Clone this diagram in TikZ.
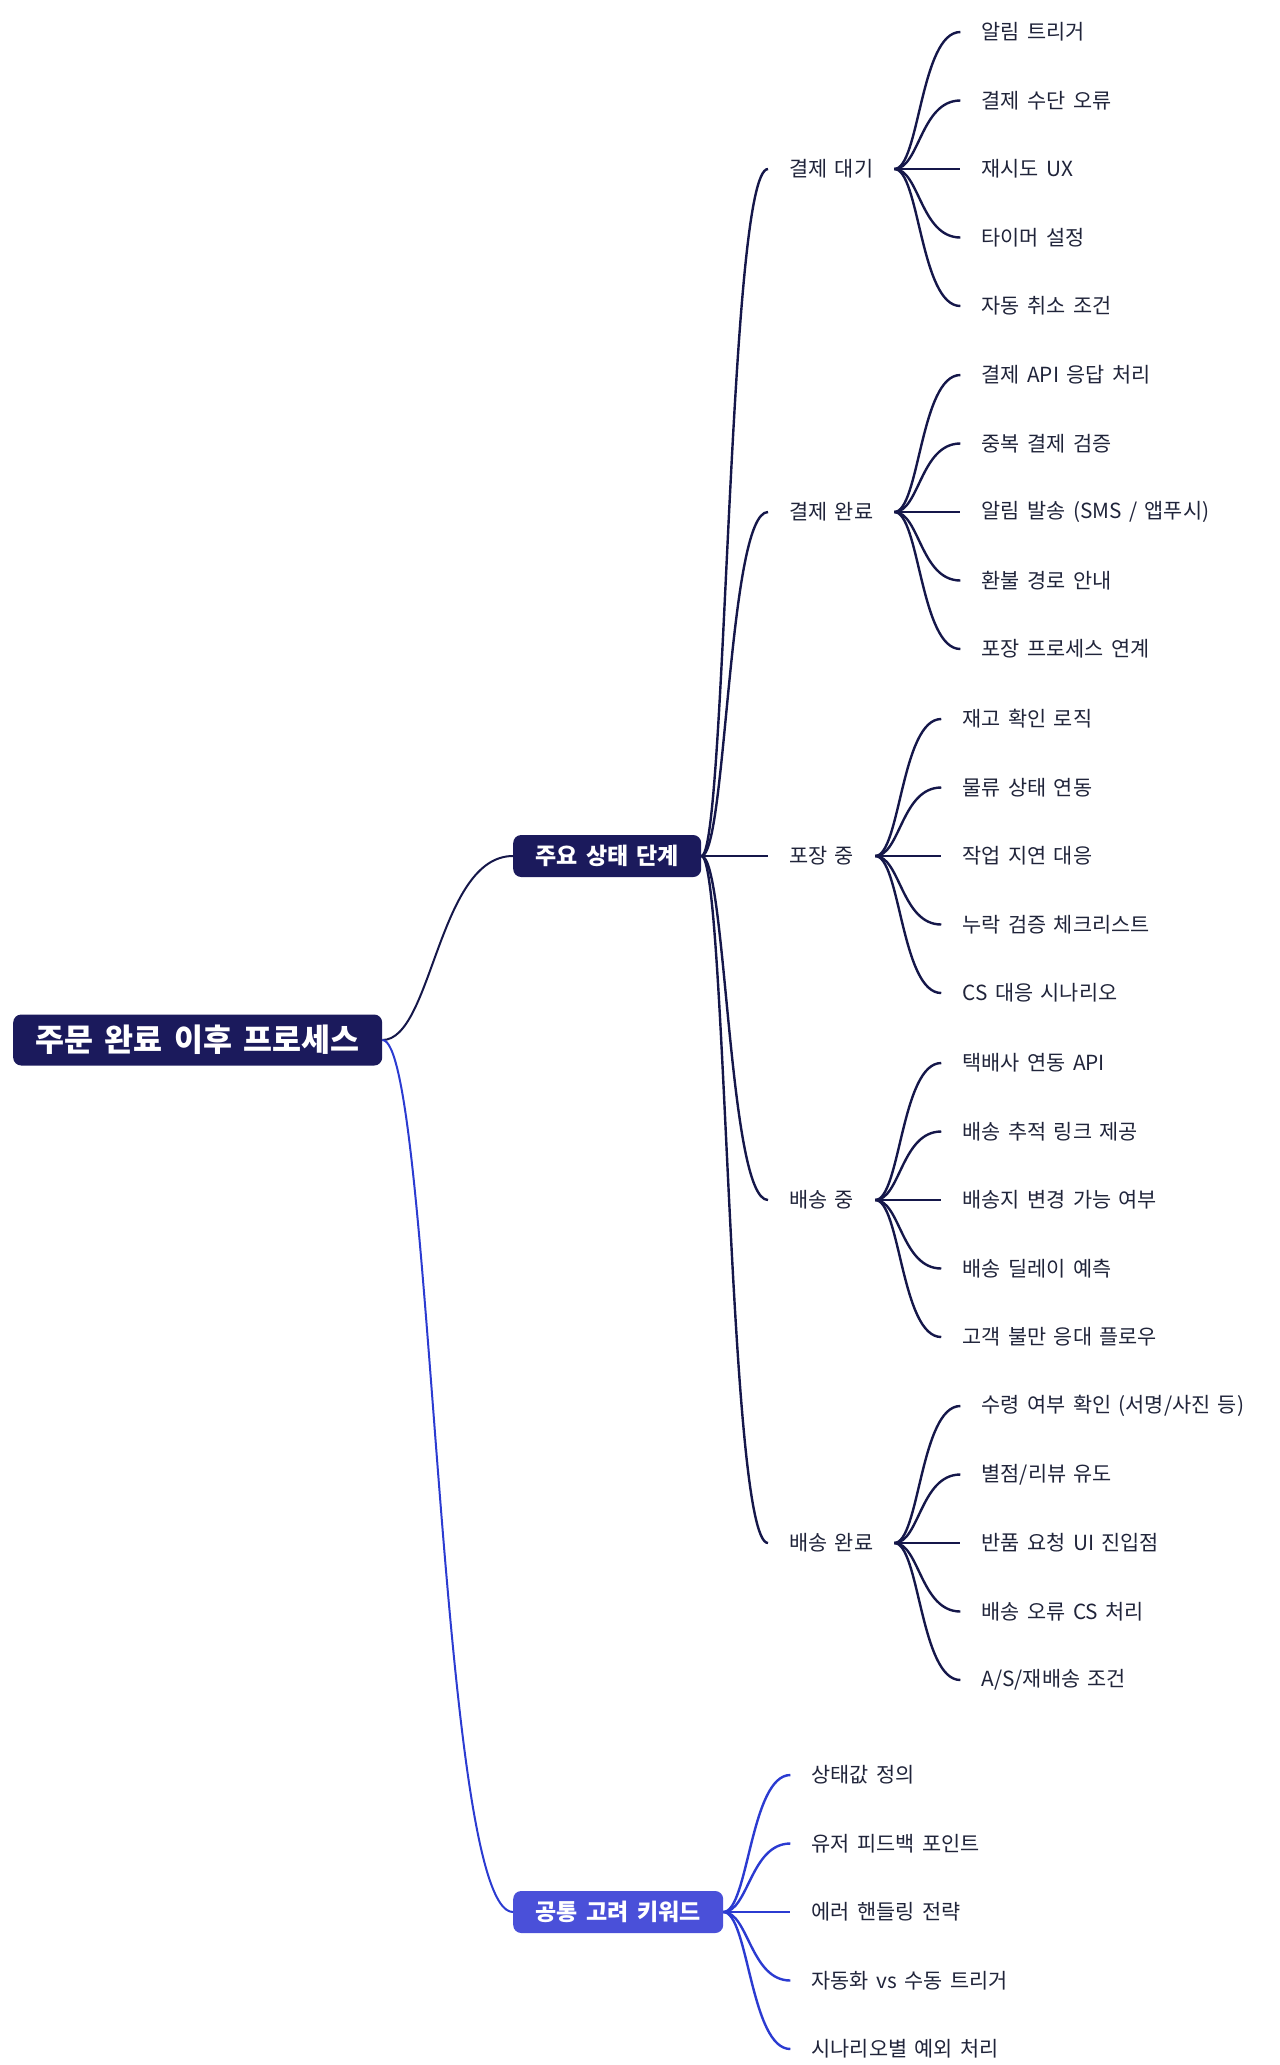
\documentclass[tikz,border=0pt]{standalone}
\usepackage{fontspec}
\setmainfont{Noto Sans CJK KR}[WordSpace=1.6]
\usetikzlibrary{positioning}
\definecolor{navy}{HTML}{1B1A5C}
\definecolor{navyline}{HTML}{15174A}
\definecolor{indigo}{HTML}{4A50D9}
\definecolor{indigoline}{HTML}{2B3BD1}
\definecolor{ink}{HTML}{20243A}

\begin{document}
\begin{tikzpicture}[x=1pt, y=-1pt,
  topic/.style={fill=navy, text=white, rounded corners=8pt, anchor=west, inner xsep=0pt,
    font=\bfseries\fontsize{23}{26}\selectfont, minimum height=42pt},
  item/.style={text=ink, anchor=west, inner xsep=21pt, inner ysep=0pt,
    font=\fontsize{20.8}{24}\selectfont},
  wire/.style={draw=navyline, line width=2.4pt}]
\useasboundingbox (0,0) rectangle (1280,2065);

\node[topic, minimum width=369pt, minimum height=51pt, font=\bfseries\fontsize{31.5}{35}\selectfont] (root) at (13,1040) {주문 완료 이후 프로세스};
\node[topic, minimum width=188pt] (stage) at (513,856) {주요 상태 단계};
\node[topic, minimum width=210pt, fill=indigo] (kw) at (513,1912) {공통 고려 키워드};
\draw[wire, line width=2pt] (root.east) .. controls +(50,0) and +(-75,0) .. (stage.west);
\draw[wire, line width=2pt, draw=indigoline] (root.east) .. controls +(50,0) and +(-75,0) .. (kw.west);

\foreach \name/\y/\t in {wait/169/결제 대기, paid/512/결제 완료, pack/856/포장 중, ship/1200/배송 중, done/1543/배송 완료} {
  \node[item] (\name) at (768,\y) {\t};
  \draw[wire] (stage.east) .. controls +(25,0) and +(-40,0) .. (\name.west);
}

\foreach \t [count=\i] in {알림 트리거, 결제 수단 오류, 재시도 UX, 타이머 설정, 자동 취소 조건} {
  \node[item, right=66pt of wait, yshift={(3-\i)*68.5pt}] (wait\i) {\t};
  \draw[wire] (wait.east) .. controls +(25,0) and +(-40,0) .. (wait\i.west);
}
\foreach \t [count=\i] in {결제 API 응답 처리, 중복 결제 검증, {알림 발송 (SMS / 앱푸시)}, 환불 경로 안내, 포장 프로세스 연계} {
  \node[item, right=66pt of paid, yshift={(3-\i)*68.5pt}] (paid\i) {\t};
  \draw[wire] (paid.east) .. controls +(25,0) and +(-40,0) .. (paid\i.west);
}
\foreach \t [count=\i] in {재고 확인 로직, 물류 상태 연동, 작업 지연 대응, 누락 검증 체크리스트, CS 대응 시나리오} {
  \node[item, right=66pt of pack, yshift={(3-\i)*68.5pt}] (pack\i) {\t};
  \draw[wire] (pack.east) .. controls +(25,0) and +(-40,0) .. (pack\i.west);
}
\foreach \t [count=\i] in {택배사 연동 API, 배송 추적 링크 제공, 배송지 변경 가능 여부, 배송 딜레이 예측, 고객 불만 응대 플로우} {
  \node[item, right=66pt of ship, yshift={(3-\i)*68.5pt}] (ship\i) {\t};
  \draw[wire] (ship.east) .. controls +(25,0) and +(-40,0) .. (ship\i.west);
}
\foreach \t [count=\i] in {{수령 여부 확인 (서명/사진 등)}, {별점/리뷰 유도}, 반품 요청 UI 진입점, 배송 오류 CS 처리, {A/S/재배송 조건}} {
  \node[item, right=66pt of done, yshift={(3-\i)*68.5pt}] (done\i) {\t};
  \draw[wire] (done.east) .. controls +(25,0) and +(-40,0) .. (done\i.west);
}
\foreach \t [count=\i] in {상태값 정의, 유저 피드백 포인트, 에러 핸들링 전략, 자동화 vs 수동 트리거, 시나리오별 예외 처리} {
  \node[item, right=67pt of kw, yshift={(3-\i)*68.5pt}] (kw\i) {\t};
  \draw[wire, draw=indigoline] (kw.east) .. controls +(25,0) and +(-40,0) .. (kw\i.west);
}
\end{tikzpicture}
\end{document}
